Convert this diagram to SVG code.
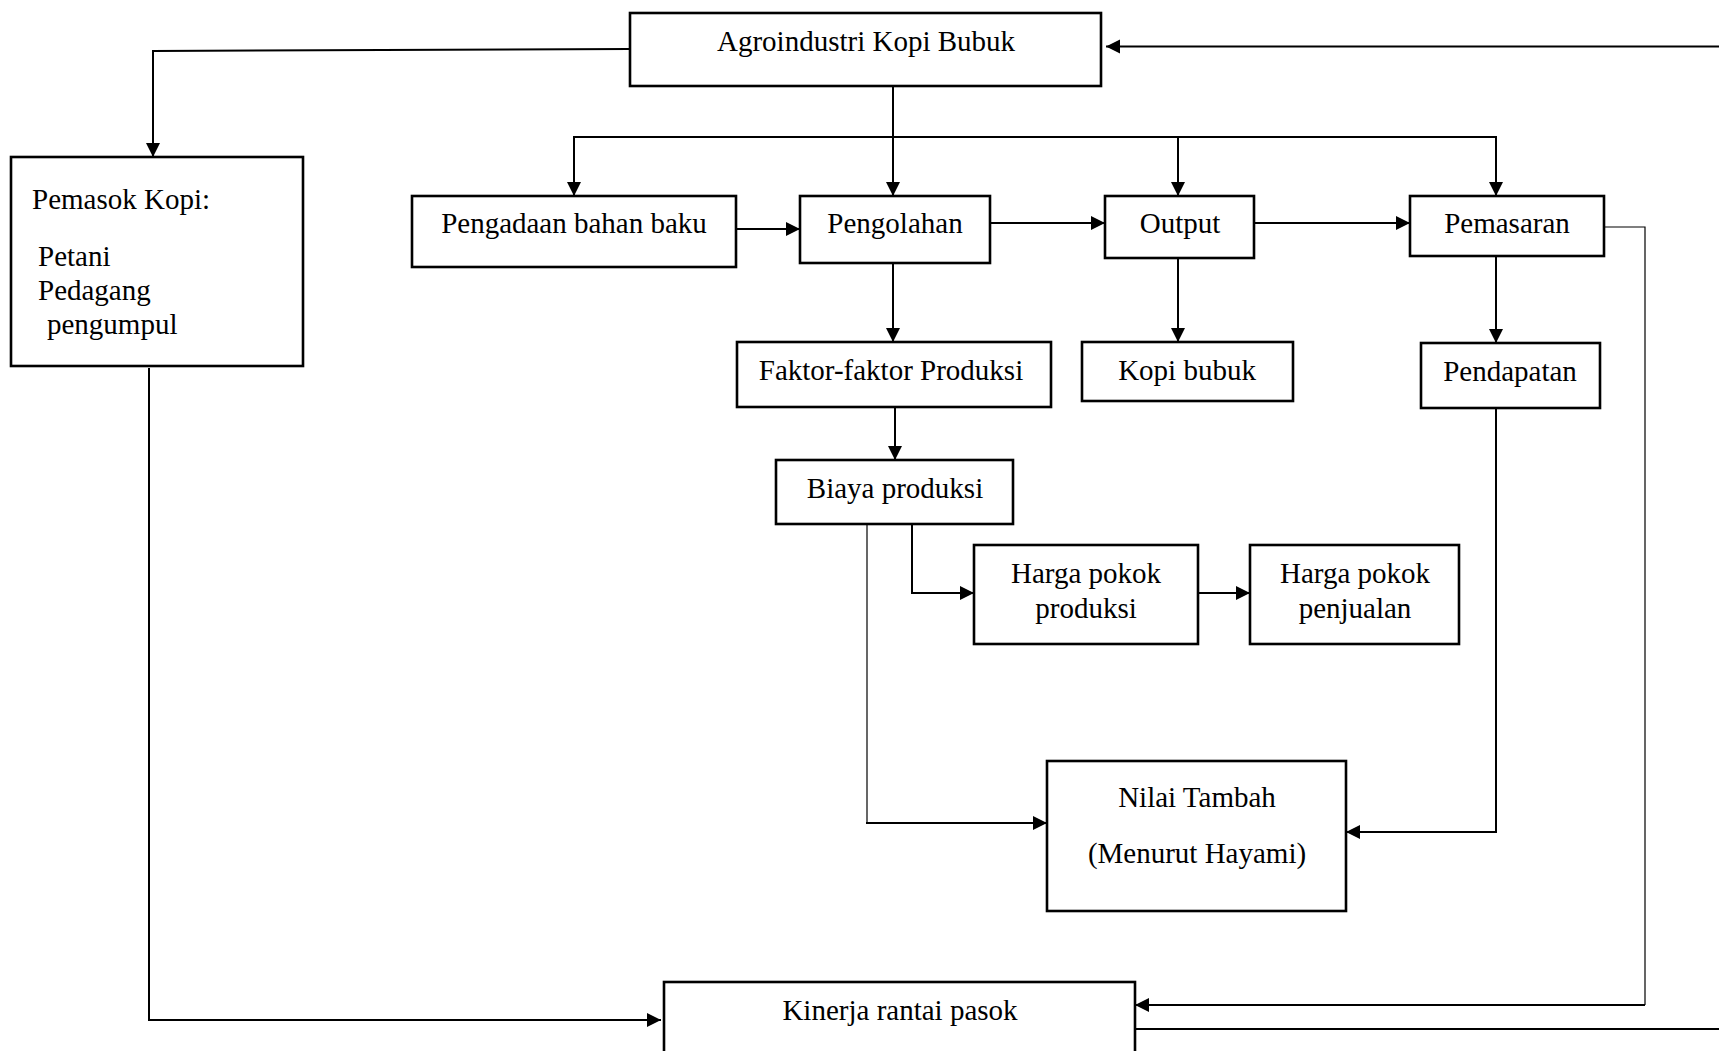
<svg xmlns="http://www.w3.org/2000/svg" width="1719" height="1051" viewBox="0 0 1719 1051">
<style>
.box{fill:#fff;stroke:#000;stroke-width:2.6}
.t{font-family:"Liberation Serif","Times New Roman",serif;font-size:29px;fill:#000;text-anchor:middle}
.tl{font-family:"Liberation Serif","Times New Roman",serif;font-size:29px;fill:#000}
.c{fill:none;stroke:#000;stroke-width:2}
.ct{fill:none;stroke:#000;stroke-width:1.2}
</style>
<defs>
<marker id="ah" viewBox="0 0 14 14" refX="14" refY="7" markerWidth="14" markerHeight="15" markerUnits="userSpaceOnUse" orient="auto">
<path d="M0,0 L14,7 L0,14 z" fill="#000"/>
</marker>
</defs>
<rect width="1719" height="1051" fill="#fff"/>
<g id="connectors">
<polyline class="c" points="630,49 153,51 153,157" marker-end="url(#ah)"/>
<line class="c" x1="1719" y1="46.5" x2="1106" y2="46.5" marker-end="url(#ah)"/>
<line class="c" x1="893" y1="86" x2="893" y2="196" marker-end="url(#ah)"/>
<polyline class="c" points="574,196 574,137 1496,137 1496,196" marker-end="url(#ah)"/>
<line class="c" x1="1178" y1="137" x2="1178" y2="196" marker-end="url(#ah)"/>
<line class="c" x1="574" y1="137" x2="574" y2="196" marker-end="url(#ah)"/>
<line class="c" x1="737" y1="229" x2="800" y2="229" marker-end="url(#ah)"/>
<line class="c" x1="990" y1="223" x2="1105" y2="223" marker-end="url(#ah)"/>
<line class="c" x1="1254" y1="223" x2="1410" y2="223" marker-end="url(#ah)"/>
<line class="c" x1="893" y1="263" x2="893" y2="342" marker-end="url(#ah)"/>
<line class="c" x1="1178" y1="258" x2="1178" y2="342" marker-end="url(#ah)"/>
<line class="c" x1="1496" y1="256" x2="1496" y2="343" marker-end="url(#ah)"/>
<line class="c" x1="895" y1="408" x2="895" y2="460" marker-end="url(#ah)"/>
<polyline class="c" points="912,524 912,593 974,593" marker-end="url(#ah)"/>
<line class="c" x1="1198" y1="593" x2="1250" y2="593" marker-end="url(#ah)"/>
<polyline class="ct" points="867,524 867,823"/>
<line class="c" x1="866" y1="823" x2="1047" y2="823" marker-end="url(#ah)"/>
<polyline class="c" points="1496,408 1496,832 1346,832" marker-end="url(#ah)"/>
<polyline class="ct" points="1604,227 1645,227 1645,1005"/>
<line class="c" x1="1645" y1="1005" x2="1135" y2="1005" marker-end="url(#ah)"/>
<polyline class="c" points="149,368 149,1020 661,1020" marker-end="url(#ah)"/>
<line class="c" x1="1135" y1="1029" x2="1719" y2="1029"/>
</g>
<g id="agroindustri">
<rect class="box" x="630" y="13" width="471" height="73"/>
<text class="t" x="866" y="51">Agroindustri Kopi Bubuk</text>
</g>
<g id="pemasok">
<rect class="box" x="11" y="157" width="292" height="209"/>
<text class="tl" x="32" y="209">Pemasok Kopi:</text>
<text class="tl" x="38" y="266">Petani</text>
<text class="tl" x="38" y="300">Pedagang</text>
<text class="tl" x="47" y="334">pengumpul</text>
</g>
<g id="pengadaan">
<rect class="box" x="412" y="196" width="324" height="71"/>
<text class="t" x="574" y="233">Pengadaan bahan baku</text>
</g>
<g id="pengolahan">
<rect class="box" x="800" y="196" width="190" height="67"/>
<text class="t" x="895" y="233">Pengolahan</text>
</g>
<g id="output">
<rect class="box" x="1105" y="196" width="149" height="62"/>
<text class="t" x="1180" y="233">Output</text>
</g>
<g id="pemasaran">
<rect class="box" x="1410" y="196" width="194" height="60"/>
<text class="t" x="1507" y="233">Pemasaran</text>
</g>
<g id="faktor">
<rect class="box" x="737" y="342" width="314" height="65"/>
<text class="t" x="891" y="380">Faktor-faktor Produksi</text>
</g>
<g id="kopibubuk">
<rect class="box" x="1082" y="342" width="211" height="59"/>
<text class="t" x="1187" y="380">Kopi bubuk</text>
</g>
<g id="pendapatan">
<rect class="box" x="1421" y="343" width="179" height="65"/>
<text class="t" x="1510" y="381">Pendapatan</text>
</g>
<g id="biaya">
<rect class="box" x="776" y="460" width="237" height="64"/>
<text class="t" x="895" y="498">Biaya produksi</text>
</g>
<g id="hpp">
<rect class="box" x="974" y="545" width="224" height="99"/>
<text class="t" x="1086" y="583">Harga pokok</text>
<text class="t" x="1086" y="618">produksi</text>
</g>
<g id="hpj">
<rect class="box" x="1250" y="545" width="209" height="99"/>
<text class="t" x="1355" y="583">Harga pokok</text>
<text class="t" x="1355" y="618">penjualan</text>
</g>
<g id="nilaitambah">
<rect class="box" x="1047" y="761" width="299" height="150"/>
<text class="t" x="1197" y="807">Nilai Tambah</text>
<text class="t" x="1197" y="863">(Menurut Hayami)</text>
</g>
<g id="kinerja">
<rect class="box" x="664" y="982" width="471" height="80"/>
<text class="t" x="900" y="1020">Kinerja rantai pasok</text>
</g>
</svg>
